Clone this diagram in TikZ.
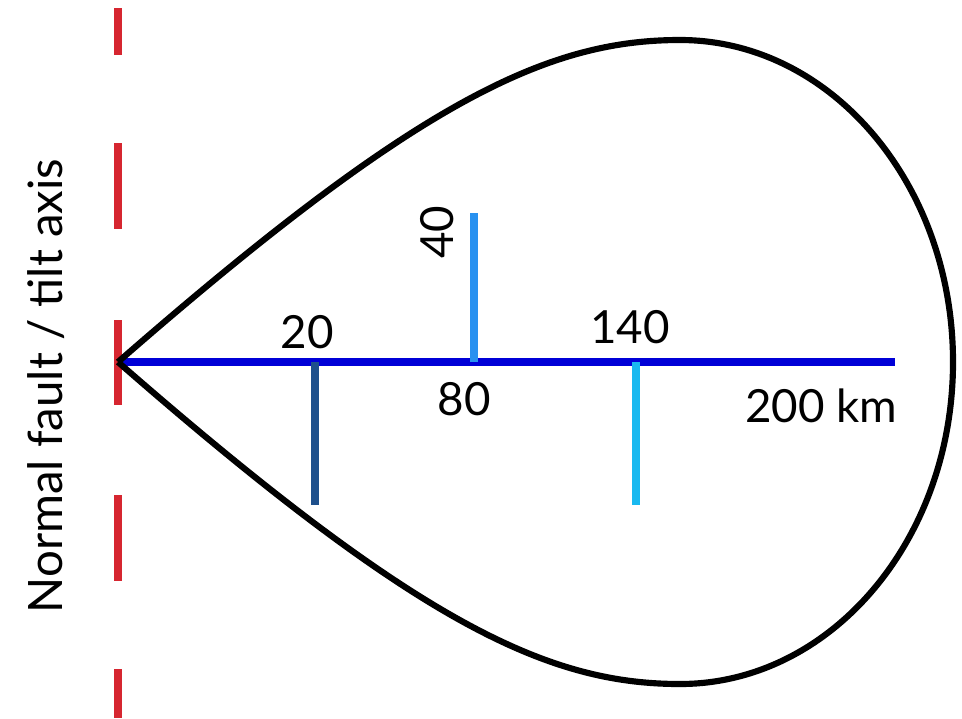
\documentclass[tikz,border=0pt]{standalone}
\usepackage{fontspec}
\setmainfont{Lato}
\definecolor{faultred}{RGB}{214,38,48}
\definecolor{axisblue}{RGB}{0,0,215}
\definecolor{darkleg}{RGB}{30,80,140}
\definecolor{midleg}{RGB}{40,145,240}
\definecolor{lightleg}{RGB}{25,185,240}
\tikzset{lbl/.style={anchor=base,inner sep=0pt,font=\fontsize{26}{30}\selectfont},
  leg/.style={line width=4pt}}
\begin{document}
\begin{tikzpicture}[x=0.02cm,y=0.02cm]
\useasboundingbox(-118,-356)rectangle(844,362);
\coordinate(O)at(0,0);
\coordinate(T)at(562,322);
\coordinate(R)at(835,0);
\coordinate(B)at(562,-322);
\coordinate(E)at(777,0);
\coordinate(A20)at(197,0);\coordinate(A20e)at(197,-143);
\coordinate(A80)at(356,0);\coordinate(A80e)at(356,149);
\coordinate(A140)at(518,0);\coordinate(A140e)at(518,-143);
% fault / tilt axis
\foreach\a/\b in{354/307,219/133,42/-43,-133/-219,-307/-356}
  \draw[faultred,line width=4.5pt](0,\a)--(0,\b);
% distance axis and legs
\draw[axisblue,line width=4.2pt](O)--(E);
\draw[leg,darkleg](A20)--(A20e);
\draw[leg,midleg](A80)--(A80e);
\draw[leg,lightleg](A140)--(A140e);
% outline
\draw[line width=3.5pt,line join=round](O).. controls(300,262)and(430,322)..(T)
  .. controls(713,322)and(835,178)..(R)
  .. controls(835,-178)and(713,-322)..(B)
  .. controls(430,-322)and(300,-262)..(O);
\node[lbl](l20)at(189,14){20};
\node[lbl,rotate=90](l40)at(335,130){40};
\node[lbl](l80)at(346,-53){80};
\node[lbl](l140)at(512,19){140};
\node[lbl](l200)at(703,-60){200 km};
\node[lbl,rotate=90,font=\fontsize{27}{30}\selectfont](lfault)at(-55,-24){Normal fault / tilt axis};
\end{tikzpicture}
\end{document}
